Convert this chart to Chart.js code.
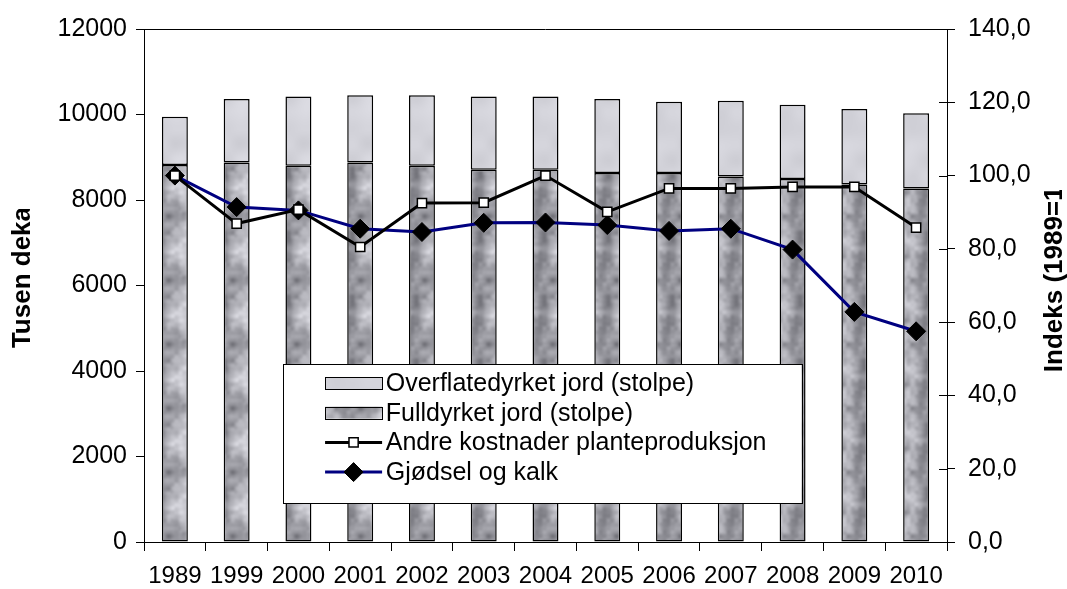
<!DOCTYPE html>
<html>
<head>
<meta charset="utf-8">
<script src="https://cdn.jsdelivr.net/npm/chart.js@4.4.1/dist/chart.umd.min.js"></script>
<style>
html,body{margin:0;padding:0;background:#fff;}
canvas{display:block;}
</style>
</head>
<body>
<canvas id="c" width="1067" height="589"></canvas>
<script>
const years = ['1989','1999','2000','2001','2002','2003','2004','2005','2006','2007','2008','2009','2010'];
const fulldyrket = [8820, 8880, 8800, 8880, 8800, 8710, 8710, 8630, 8630, 8550, 8490, 8360, 8270];
const overflate = [1130, 1480, 1620, 1570, 1650, 1710, 1710, 1730, 1670, 1770, 1740, 1770, 1760];
const andre = [100.0, 86.9, 90.7, 80.5, 92.5, 92.6, 100.0, 90.1, 96.5, 96.5, 96.9, 96.9, 85.8];
const gjodsel = [100.0, 91.4, 90.5, 85.5, 84.6, 87.1, 87.2, 86.5, 84.9, 85.5, 79.8, 62.8, 57.5];
const leftTitle = 'Tusen dekar';
const rightTitle = 'Indeks (1989=100)';

const FONT = "'Liberation Sans', Arial, sans-serif";

// deterministic texture (styling only)
function hash(x, y, s) { const h = Math.sin(x * 127.1 + y * 311.7 + s * 74.7) * 43758.5453; return h - Math.floor(h); }
function vnoise(x, y, cell, size, s) {
  const n = size / cell;
  const gx = Math.floor(x / cell), gy = Math.floor(y / cell);
  let fx = x / cell - gx, fy = y / cell - gy;
  fx = fx * fx * (3 - 2 * fx); fy = fy * fy * (3 - 2 * fy);
  const x0 = ((gx % n) + n) % n, y0 = ((gy % n) + n) % n, x1 = (x0 + 1) % n, y1 = (y0 + 1) % n;
  const a = hash(x0, y0, s), b = hash(x1, y0, s), c = hash(x0, y1, s), d = hash(x1, y1, s);
  return (a * (1 - fx) + b * fx) * (1 - fy) + (c * (1 - fx) + d * fx) * fy;
}
function makePattern(kind) {
  const size = 64;
  const cv = document.createElement('canvas');
  cv.width = size; cv.height = size;
  const cx = cv.getContext('2d');
  const img = cx.createImageData(size, size);
  for (let y = 0; y < size; y++) for (let x = 0; x < size; x++) {
    let g;
    if (kind === 'full') {
      const v = 0.5 * vnoise(x, y, 16, size, 1) + 0.35 * vnoise(x, y, 8, size, 2) + 0.15 * vnoise(x, y, 4, size, 5);
      g = 90 + v * 175;
    } else {
      const v = 0.7 * vnoise(x, y, 32, size, 3) + 0.3 * vnoise(x, y, 16, size, 4);
      g = 200 + v * 48;
    }
    g = Math.max(0, Math.min(255, g));
    const i = (y * size + x) * 4;
    img.data[i] = g; img.data[i + 1] = g; img.data[i + 2] = Math.min(255, g + 7); img.data[i + 3] = 255;
  }
  cx.putImageData(img, 0, 0);
  return document.getElementById('c').getContext('2d').createPattern(cv, 'repeat');
}
const patFull = makePattern('full');
const patOver = makePattern('over');

const extras = {
  id: 'extras',
  afterDatasetsDraw(chart) {
    const ctx = chart.ctx, a = chart.chartArea;
    ctx.save();
    // top border
    ctx.strokeStyle = '#000'; ctx.lineWidth = 1;
    ctx.beginPath(); ctx.moveTo(a.left, a.top + 0.5); ctx.lineTo(a.right, a.top + 0.5); ctx.stroke();
    // right axis inner ticks
    const y1 = chart.scales.y1;
    y1.ticks.forEach((t, i) => {
      const yy = Math.round(y1.getPixelForTick(i)) + 0.5;
      ctx.beginPath(); ctx.moveTo(a.right - 8, yy); ctx.lineTo(a.right, yy); ctx.stroke();
    });
    // legend
    const W = a.right - a.left, H = a.bottom - a.top;
    const lx = a.left + W * 0.173, rx = a.left + W * 0.819;
    const ty = a.top + H * 0.653, by = a.top + H * 0.924;
    ctx.fillStyle = '#fff';
    ctx.fillRect(lx, ty, rx - lx, by - ty);
    ctx.strokeStyle = '#000'; ctx.lineWidth = 1;
    ctx.strokeRect(Math.round(lx) + 0.5, Math.round(ty) + 0.5, Math.round(rx - lx), Math.round(by - ty));
    const ds = chart.data.datasets;
    const orderIdx = [1, 0, 2, 3];
    const sx0 = a.left + W * 0.2255, sx1 = a.left + W * 0.2965;
    const textX = a.left + W * 0.301;
    ctx.font = '25px ' + FONT;
    ctx.textBaseline = 'middle';
    ctx.textAlign = 'left';
    orderIdx.forEach((di, r) => {
      const d = ds[di];
      const cy = ty + 19 + r * 29.7;
      if (d.type === 'bar') {
        ctx.fillStyle = d.backgroundColor;
        ctx.fillRect(sx0, cy - 6, sx1 - sx0, 12);
        ctx.strokeStyle = '#000'; ctx.lineWidth = 1;
        ctx.strokeRect(Math.round(sx0) + 0.5, Math.round(cy - 6) + 0.5, Math.round(sx1 - sx0), 12);
      } else {
        ctx.strokeStyle = d.borderColor; ctx.lineWidth = d.borderWidth;
        ctx.beginPath(); ctx.moveTo(sx0, cy); ctx.lineTo(sx1, cy); ctx.stroke();
        ctx.fillStyle = d.pointBackgroundColor; ctx.strokeStyle = d.pointBorderColor; ctx.lineWidth = d.pointBorderWidth;
        ctx.beginPath();
        const m = (sx0 + sx1) / 2;
        if (d.pointStyle === 'rect') {
          const s = Math.SQRT1_2 * d.pointRadius;
          ctx.rect(m - s, cy - s, 2 * s, 2 * s);
        } else {
          const r2 = d.pointRadius;
          ctx.moveTo(m, cy - r2); ctx.lineTo(m + r2, cy); ctx.lineTo(m, cy + r2); ctx.lineTo(m - r2, cy); ctx.closePath();
        }
        ctx.fill(); ctx.stroke();
      }
      ctx.fillStyle = '#000';
      ctx.fillText(d.label, textX, cy + 1);
    });
    // axis titles (clipped like the original)
    ctx.font = 'bold 26px ' + FONT;
    ctx.fillStyle = '#000';
    ctx.textBaseline = 'middle';
    ctx.save();
    ctx.beginPath(); ctx.rect(0, a.top + H * 0.351, 60, H); ctx.clip();
    ctx.translate(23, a.top + H * 0.622);
    ctx.rotate(-Math.PI / 2);
    ctx.textAlign = 'left';
    ctx.fillText(leftTitle, 0, 0);
    ctx.restore();
    ctx.save();
    ctx.beginPath(); ctx.rect(1020, a.top + H * 0.314, 47, H); ctx.clip();
    ctx.translate(1055, a.top + H * 0.669);
    ctx.rotate(-Math.PI / 2);
    ctx.textAlign = 'left';
    ctx.fillText(rightTitle, 0, 0);
    ctx.restore();
    ctx.restore();
  }
};

new Chart(document.getElementById('c'), {
  data: {
    labels: years,
    datasets: [
      { type: 'bar', label: 'Fulldyrket jord (stolpe)', data: fulldyrket, backgroundColor: patFull,
        borderColor: '#000', borderWidth: 1.5, borderSkipped: false, yAxisID: 'y', stack: 's', order: 2,
        barPercentage: 0.42, categoryPercentage: 1 },
      { type: 'bar', label: 'Overflatedyrket jord (stolpe)', data: overflate, backgroundColor: patOver,
        borderColor: '#000', borderWidth: 1.5, borderSkipped: false, yAxisID: 'y', stack: 's', order: 2,
        barPercentage: 0.42, categoryPercentage: 1 },
      { type: 'line', label: 'Andre kostnader planteproduksjon', data: andre, borderColor: '#000', borderWidth: 3,
        pointStyle: 'rect', pointRadius: 6.5, pointBackgroundColor: '#fff', pointBorderColor: '#000',
        pointBorderWidth: 1.5, yAxisID: 'y1', order: 0, tension: 0 },
      { type: 'line', label: 'Gjødsel og kalk', data: gjodsel, borderColor: '#000080', borderWidth: 3,
        pointStyle: 'rectRot', pointRadius: 9.5, pointBackgroundColor: '#000', pointBorderColor: '#000',
        pointBorderWidth: 1, yAxisID: 'y1', order: 1, tension: 0 }
    ]
  },
  options: {
    responsive: false,
    devicePixelRatio: 1,
    animation: false,
    layout: { padding: { top: 29, left: 0, right: 0, bottom: 0 } },
    plugins: { legend: { display: false }, tooltip: { enabled: false } },
    scales: {
      x: {
        stacked: true,
        grid: { drawOnChartArea: false, drawTicks: true, tickLength: 9, color: '#000', offset: true },
        border: { display: true, color: '#000', width: 1 },
        ticks: { color: '#000', font: { size: 24, family: FONT }, padding: 11, maxRotation: 0, autoSkip: false },
        afterFit: s => { s.height = 47; }
      },
      y: {
        stacked: true, position: 'left', min: 0, max: 12000,
        grid: { drawOnChartArea: false, tickLength: 8, color: '#000' },
        border: { display: true, color: '#000', width: 1 },
        ticks: { stepSize: 2000, color: '#000', font: { size: 25, family: FONT }, padding: 9,
          callback: v => String(v) },
        afterFit: s => { s.width = 144; }
      },
      y1: {
        stacked: false, position: 'right', min: 0, max: 140,
        grid: { drawOnChartArea: false, tickLength: 8, color: '#000' },
        border: { display: true, color: '#000', width: 1 },
        ticks: { stepSize: 20, color: '#000', font: { size: 25, family: FONT }, padding: 13,
          callback: v => v.toFixed(1).replace('.', ',') },
        afterFit: s => { s.width = 120; }
      }
    }
  },
  plugins: [extras]
});
</script>
</body>
</html>
